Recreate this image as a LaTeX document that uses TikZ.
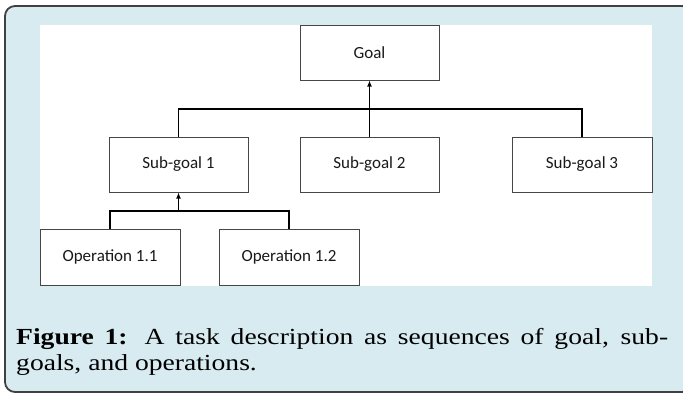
\documentclass[tikz,border=0pt]{standalone}
\usepackage{fontspec}
\setmainfont{Carlito}
\newfontfamily\capfont{Liberation Serif}[FakeStretch=1.2]
\usetikzlibrary{arrows.meta}
\definecolor{panelblue}{RGB}{215,235,240}
\definecolor{bordergrey}{RGB}{64,64,64}
\definecolor{boxline}{RGB}{70,70,70}
\definecolor{txt}{RGB}{25,25,25}
\tikzset{
  box/.style={draw=boxline, line width=1pt, fill=white, minimum width=139pt, minimum height=55pt,
    inner sep=0pt, font=\fontsize{17}{20}\selectfont, text=txt},
  conn/.style={draw=black, line width=1.6pt},
  arr/.style={conn, -{Latex[length=6pt,width=5pt]}}
}
\begin{document}
\begin{tikzpicture}[x=1pt,y=-1pt]
\useasboundingbox (0,0) rectangle (683,394);
\draw[fill=panelblue, draw=bordergrey, line width=1.8pt, rounded corners=10pt] (5,6) rectangle (692,392);
\fill[white] (40,25) rectangle (652,286);
\node[box] (goal) at (369.5,52.5) {Goal};
\node[box] (sub1) at (178.5,164.5) {Sub-goal 1};
\node[box] (sub2) at (369.5,164.5) {Sub-goal 2};
\node[box, minimum width=140pt] (sub3) at (582,164.5) {Sub-goal 3};
\node[box, minimum width=140pt, minimum height=56pt] (op1) at (110,257) {Operation 1.1};
\node[box, minimum width=140pt, minimum height=56pt] (op2) at (289,257) {Operation 1.2};
\coordinate (barA) at (369.5,108.7);
\coordinate (barB) at (178.5,210.7);
\draw[conn] (sub1.north) |- (barA) -| (sub3.north);
\draw[arr] (sub2.north) -- (goal.south);
\draw[conn] (op1.north) |- (barB) -| (op2.north);
\draw[arr] (barB) -- (sub1.south);
\node[anchor=north west, inner sep=0pt, text width=652pt, align=justify,
  font=\capfont\fontsize{23}{26.5}\selectfont, text=black] (cap) at (16,328)
  {\textbf{Figure 1:} A task description as sequences of goal, sub-\linebreak goals, and operations.};
\end{tikzpicture}
\end{document}
